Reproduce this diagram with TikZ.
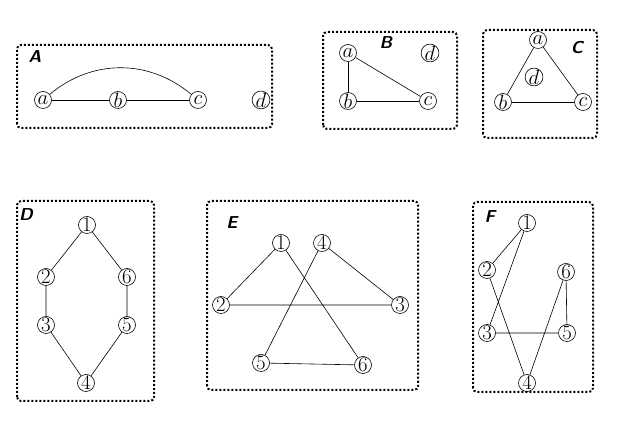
\documentclass[tikz,border=0pt]{standalone}
\usepackage{tikz}

\tikzset{
  vtx/.style={circle, draw, minimum size=17pt, inner sep=0pt, font=\huge},
  frame/.style={draw, line width=2pt, dotted, rounded corners=4pt},
  tag/.style={font=\sffamily\bfseries\itshape\LARGE},
  every path/.style={line width=0.6pt},
}

\begin{document}
\begin{tikzpicture}[x=1pt, y=1pt]
  \useasboundingbox (0,0) rectangle (642,422);

% A
  \draw [frame] (17,294) rectangle (272,377);
  \node [tag] (labA) at (35,365) {A};
  \node [vtx] (Aa) at (43,322) {$a$};
  \node [vtx] (Ab) at (118,322) {$b$};
  \node [vtx] (Ac) at (198,322) {$c$};
  \node [vtx] (Ad) at (261,322) {$d$};
  \draw (Aa) -- (Ab);
  \draw (Ab) -- (Ac);
  \draw (Aa) to [bend left=40] (Ac);

% B
  \draw [frame] (323,293) rectangle (457,390);
  \node [tag] (labB) at (386,379) {B};
  \node [vtx] (Ba) at (348,369) {$a$};
  \node [vtx] (Bd) at (430,369) {$d$};
  \node [vtx] (Bb) at (348,321) {$b$};
  \node [vtx] (Bc) at (428,321) {$c$};
  \draw (Ba) -- (Bb);
  \draw (Bb) -- (Bc);
  \draw (Ba) -- (Bc);

% C
  \draw [frame] (483,284) rectangle (597,392);
  \node [tag] (labC) at (577,374) {C};
  \node [vtx] (Ca) at (538,382) {$a$};
  \node [vtx] (Cd) at (534,345) {$d$};
  \node [vtx] (Cb) at (503,320) {$b$};
  \node [vtx] (Cc) at (583,320) {$c$};
  \draw (Ca) -- (Cb);
  \draw (Ca) -- (Cc);
  \draw (Cb) -- (Cc);

% D
  \draw [frame] (17,21) rectangle (154,221);
  \node [tag] (labD) at (26,207) {D};
  \node [vtx] (D1) at (87,197) {$1$};
  \node [vtx] (D2) at (46,145) {$2$};
  \node [vtx] (D6) at (127,145) {$6$};
  \node [vtx] (D3) at (46,97) {$3$};
  \node [vtx] (D5) at (127,97) {$5$};
  \node [vtx] (D4) at (86,39) {$4$};
  \draw (D1) -- (D2) -- (D3) -- (D4) -- (D5) -- (D6) -- (D1);

% E
  \draw [frame] (207,32) rectangle (418,221);
  \node [tag] (labE) at (232,199) {E};
  \node [vtx] (E1) at (281,179) {$1$};
  \node [vtx] (E4) at (322,179) {$4$};
  \node [vtx] (E2) at (221,117) {$2$};
  \node [vtx] (E3) at (400,117) {$3$};
  \node [vtx] (E5) at (261,59) {$5$};
  \node [vtx] (E6) at (363,57) {$6$};
  \draw (E1) -- (E2) -- (E3) -- (E4) -- (E5) -- (E6) -- (E1);

% F
  \draw [frame] (473,30) rectangle (593,220);
  \node [tag] (labF) at (490,205) {F};
  \node [vtx] (F1) at (527,199) {$1$};
  \node [vtx] (F2) at (487,152) {$2$};
  \node [vtx] (F6) at (566,150) {$6$};
  \node [vtx] (F3) at (487,89) {$3$};
  \node [vtx] (F5) at (567,89) {$5$};
  \node [vtx] (F4) at (527,39) {$4$};
  \draw (F1) -- (F2) -- (F4) -- (F6) -- (F5) -- (F3) -- (F1);

\end{tikzpicture}
\end{document}
